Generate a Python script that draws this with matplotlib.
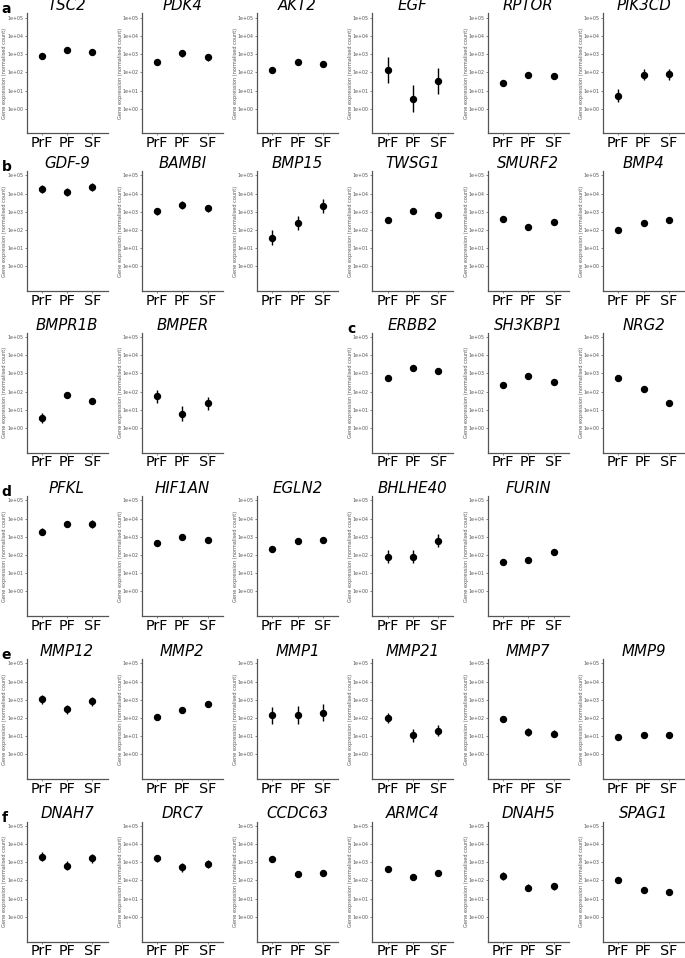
import matplotlib
matplotlib.use("Agg")
import matplotlib.pyplot as plt
from matplotlib.ticker import FixedLocator, FixedFormatter, NullLocator

plt.rcParams['font.family'] = ['Liberation Sans Narrow', 'DejaVu Sans']

# follicle stages on the x axis
groups = ["PrF", "PF", "SF"]

genes = ["TSC2", "PDK4", "AKT2", "EGF", "RPTOR", "PIK3CD",
         "GDF-9", "BAMBI", "BMP15", "TWSG1", "SMURF2", "BMP4",
         "BMPR1B", "BMPER", "ERBB2", "SH3KBP1", "NRG2",
         "PFKL", "HIF1AN", "EGLN2", "BHLHE40", "FURIN",
         "MMP12", "MMP2", "MMP1", "MMP21", "MMP7", "MMP9",
         "DNAH7", "DRC7", "CCDC63", "ARMC4", "DNAH5", "SPAG1"]

# normalised counts (mean) for PrF, PF, SF
expr_mean = [[750, 1600, 1350], [380, 1100, 660], [140, 360, 270],
             [130, 3.5, 32], [25, 70, 65], [5.2, 72, 80],
             [18000, 12000, 24000], [1050, 2400, 1600], [38, 240, 2000],
             [370, 1050, 630], [420, 140, 260], [100, 250, 340],
             [3.6, 70, 30], [55, 6.3, 24], [600, 1900, 1450],
             [230, 690, 340], [600, 140, 25],
             [1950, 5200, 5000], [450, 920, 690], [225, 560, 690],
             [80, 80, 600], [40, 51, 145],
             [1100, 300, 850], [115, 285, 580], [140, 145, 195],
             [100, 11, 20], [92, 17, 14], [9.2, 11, 11],
             [2000, 660, 1650], [1650, 530, 850], [1500, 220, 250],
             [410, 160, 260], [175, 41, 49], [105, 32, 24]]

# lower end of the error bars
expr_low = [[640, 1370, 1150], [250, 730, 440], [115, 300, 225],
            [27.5, 0.66, 6.3], [21, 61, 57], [2.2, 37, 40],
            [11000, 7200, 14500], [660, 1500, 1000], [15, 100, 850],
            [320, 900, 540], [300, 100, 195], [85, 210, 290],
            [2.0, 60, 26], [25, 2.5, 10.5], [520, 1650, 1250],
            [200, 600, 295], [520, 120, 20],
            [1300, 3450, 3200], [390, 800, 600], [170, 420, 520],
            [35, 35, 260], [34, 44, 125],
            [620, 170, 480], [80, 215, 440], [47, 49, 66],
            [50, 4.9, 10], [65, 10.7, 8.8], [7.3, 8.3, 8.7],
            [1120, 370, 930], [1040, 300, 510], [1060, 165, 190],
            [355, 140, 225], [110, 27, 32], [92, 28, 21]]

# upper end of the error bars
expr_high = [[880, 1870, 1580], [570, 1660, 1000], [170, 430, 325],
             [660, 20, 162], [29, 80, 74], [12.6, 145, 160],
             [29000, 20000, 40000], [1650, 3800, 2500], [95, 600, 4800],
             [430, 1220, 730], [590, 195, 345], [118, 300, 400],
             [6.5, 82, 35], [120, 16, 54], [690, 2200, 1680],
             [265, 800, 390], [690, 162, 31],
             [2950, 7800, 7900], [520, 1060, 800], [300, 740, 910],
             [185, 185, 1400], [47, 59, 168],
             [1950, 530, 1500], [165, 380, 770], [415, 430, 580],
             [200, 25, 40], [130, 27, 22], [11.6, 14.5, 13.8],
             [3550, 1170, 2900], [2600, 940, 1400], [2100, 290, 330],
             [475, 185, 300], [280, 62, 74], [120, 36.5, 27.5]]

# grid slot (row, column) of each gene panel
slots = [(0, 0), (0, 1), (0, 2), (0, 3), (0, 4), (0, 5),
         (1, 0), (1, 1), (1, 2), (1, 3), (1, 4), (1, 5),
         (2, 0), (2, 1), (2, 3), (2, 4), (2, 5),
         (3, 0), (3, 1), (3, 2), (3, 3), (3, 4),
         (4, 0), (4, 1), (4, 2), (4, 3), (4, 4), (4, 5),
         (5, 0), (5, 1), (5, 2), (5, 3), (5, 4), (5, 5)]

panel_letters = ["a", "b", "c", "d", "e", "f"]
letter_slots = [(0, 0), (1, 0), (2, 3), (3, 0), (4, 0), (5, 0)]

# layout in pixels
FIG_W, FIG_H = 685, 958
col_left = [26.5 + 115.3 * i for i in range(6)]
row_top = [13.3, 171, 332.7, 496, 659, 821.5]
AX_W, AX_H = 81, 120

tick_vals = [1, 10, 100, 1000, 10000, 100000]
tick_text = ["1e+00", "1e+01", "1e+02", "1e+03", "1e+04", "1e+05"]


def draw_panel(fig, gene, mean, low, high, row, col):
    left = col_left[col] / FIG_W
    bottom = 1 - (row_top[row] + AX_H) / FIG_H
    ax = fig.add_axes([left, bottom, AX_W / FIG_W, AX_H / FIG_H])

    x = list(range(len(groups)))
    yerr = [[m - l for m, l in zip(mean, low)],
            [h - m for m, h in zip(mean, high)]]
    ax.errorbar(x, mean, yerr=yerr, fmt='o', color='black', ms=4.3,
                elinewidth=1.0, capsize=0)

    ax.set_yscale('log')
    ax.set_ylim(10 ** -1.35, 10 ** 5.24)
    ax.set_xlim(-0.6, 2.6)
    ax.yaxis.set_major_locator(FixedLocator(tick_vals))
    ax.yaxis.set_major_formatter(FixedFormatter(tick_text))
    ax.yaxis.set_minor_locator(NullLocator())
    ax.set_xticks(x)
    ax.set_xticklabels(groups)

    for side in ['top', 'right']:
        ax.spines[side].set_visible(False)
    for side in ['left', 'bottom']:
        ax.spines[side].set_color('#555555')
        ax.spines[side].set_linewidth(0.9)

    ax.tick_params(axis='y', length=1.5, width=0.5, labelsize=3.4,
                   colors='#555555', pad=1)
    ax.tick_params(axis='x', length=1.5, width=0.5, labelsize=10.4,
                   color='#555555', labelcolor='black', pad=0.4)

    ax.text(-21.5 / AX_W, 0.5, "Gene expression (normalised count)",
            transform=ax.transAxes, rotation=90, ha='center', va='center',
            fontsize=3.6, color='#555555')
    ax.set_title(gene, fontstyle='italic', fontsize=10.8, pad=1)
    return ax


def plot_all():
    fig = plt.figure(figsize=(FIG_W / 100, FIG_H / 100), dpi=100)

    for i, gene in enumerate(genes):
        row, col = slots[i]
        draw_panel(fig, gene, expr_mean[i], expr_low[i], expr_high[i], row, col)

    for letter, (row, col) in zip(panel_letters, letter_slots):
        x = (col_left[col] - 25) / FIG_W
        base = max(row_top[row], 10)
        fig.text(x, 1 - base / FIG_H, letter, fontsize=10,
                 fontweight='bold', va='baseline', ha='left')

    fig.savefig("out.png", dpi=100)


if __name__ == "__main__":
    plot_all()
